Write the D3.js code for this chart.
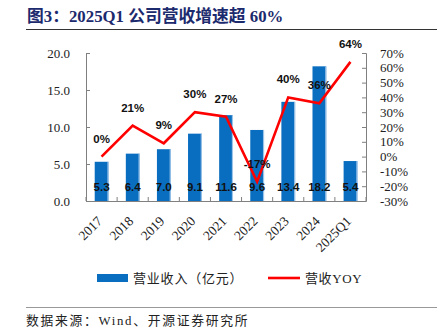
<!DOCTYPE html>
<html>
<head>
<meta charset="utf-8">
<script src="https://cdn.jsdelivr.net/npm/d3@7"></script>
<style>
  body { margin: 0; background: #fff; }
  svg { display: block; }
</style>
</head>
<body>
<div id="chart"></div>
<script>
// data
const years = ["2017", "2018", "2019", "2020", "2021", "2022", "2023", "2024", "2025Q1"];
const revenue = [5.3, 6.4, 7.0, 9.1, 11.6, 9.6, 13.4, 18.2, 5.4];
const yoy = [0, 21, 9, 30, 27, -17, 40, 36, 64];
const leftTicks = [0, 5, 10, 15, 20];
const rightTicks = [-30, -20, -10, 0, 10, 20, 30, 40, 50, 60, 70];

const W = 446, H = 335;
const margin = { top: 53, right: 80, bottom: 134, left: 86 };
const plotW = W - margin.left - margin.right;   // 280
const plotH = H - margin.top - margin.bottom;   // 148

const cjk = "'Liberation Serif', 'Noto Sans CJK SC', serif";
const sans = "'Liberation Sans', Arial, sans-serif";

const svg = d3.select("#chart").append("svg")
    .attr("width", W)
    .attr("height", H);

// title
svg.append("text")
    .attr("x", 27)
    .attr("y", 22)
    .attr("font-family", cjk)
    .attr("font-weight", "bold")
    .attr("font-size", 16.8)
    .attr("fill", "#1c2a6e")
    .text("图3：2025Q1 公司营收增速超 60%");

svg.append("line")
    .attr("x1", 26).attr("x2", 437)
    .attr("y1", 29.5).attr("y2", 29.5)
    .attr("stroke", "#333").attr("stroke-width", 1);

const g = svg.append("g")
    .attr("transform", `translate(${margin.left},${margin.top})`);

const x = d3.scaleBand().domain(years).range([0, plotW]).paddingInner(0.56).paddingOuter(0.28);
const xc = d => x(d) + x.bandwidth() / 2;
const yL = d3.scaleLinear().domain([0, 20]).range([plotH, 0]);
const yR = d3.scaleLinear().domain([-30, 70]).range([plotH, 0]);

// bars
g.selectAll(".bar")
    .data(years)
    .enter().append("rect")
    .attr("class", "bar")
    .attr("x", d => x(d))
    .attr("y", (d, i) => yL(revenue[i]))
    .attr("width", x.bandwidth())
    .attr("height", (d, i) => plotH - yL(revenue[i]))
    .attr("fill", "#0a6ec0");

// light right edge on the bars
g.selectAll(".edge")
    .data(years)
    .enter().append("rect")
    .attr("class", "edge")
    .attr("x", d => x(d) + x.bandwidth() - 1)
    .attr("y", (d, i) => yL(revenue[i]))
    .attr("width", 1.2)
    .attr("height", (d, i) => plotH - yL(revenue[i]))
    .attr("fill", "#9cc3e8");

// axes
const axisColor = "#808080";

const leftAxis = g.append("g")
    .call(d3.axisLeft(yL).tickValues(leftTicks).tickFormat(d3.format(".1f")).tickSize(-4).tickPadding(16));
const rightAxis = g.append("g")
    .attr("transform", `translate(${plotW},0)`)
    .call(d3.axisRight(yR).tickValues(rightTicks).tickFormat(d => d + "%").tickSize(-4).tickPadding(14));

[leftAxis, rightAxis].forEach(a => {
    a.select(".domain").attr("stroke", axisColor);
    a.selectAll(".tick line").attr("stroke", axisColor);
    a.selectAll("text")
        .attr("font-family", "'Liberation Serif', serif")
        .attr("font-size", 13)
        .attr("fill", "#222");
});

// bottom axis with ticks between categories
const bottom = g.append("g").attr("transform", `translate(0,${plotH})`);
bottom.append("line")
    .attr("x1", 0).attr("x2", plotW)
    .attr("y1", 0.5).attr("y2", 0.5)
    .attr("stroke", axisColor);
bottom.selectAll(".sep")
    .data(d3.range(years.length + 1))
    .enter().append("line")
    .attr("x1", i => i * x.step())
    .attr("x2", i => i * x.step())
    .attr("y1", 0).attr("y2", -4)
    .attr("stroke", axisColor);

bottom.selectAll(".xlab")
    .data(years)
    .enter().append("text")
    .attr("transform", d => `translate(${xc(d) + 1.5},${21}) rotate(-45)`)
    .attr("text-anchor", "end")
    .attr("font-family", "'Liberation Serif', serif")
    .attr("font-size", 13.5)
    .attr("fill", "#222")
    .text(d => d);

// yoy line
const line = d3.line()
    .x((d, i) => xc(years[i]))
    .y(d => yR(d));

g.append("path")
    .datum(yoy)
    .attr("d", line)
    .attr("fill", "none")
    .attr("stroke", "#ff0000")
    .attr("stroke-width", 2.6)
    .attr("stroke-linejoin", "miter");

// yoy labels
g.selectAll(".yoylab")
    .data(yoy)
    .enter().append("text")
    .attr("x", (d, i) => xc(years[i]))
    .attr("y", d => yR(d) - 14)
    .attr("text-anchor", "middle")
    .attr("font-family", sans)
    .attr("font-weight", "bold")
    .attr("font-size", 11.5)
    .attr("fill", "#111")
    .text(d => d + "%");

// bar value labels
g.selectAll(".revlab")
    .data(revenue)
    .enter().append("text")
    .attr("x", (d, i) => xc(years[i]))
    .attr("y", plotH - 10)
    .attr("text-anchor", "middle")
    .attr("font-family", sans)
    .attr("font-weight", "bold")
    .attr("font-size", 11.5)
    .attr("fill", "#111")
    .text(d => d.toFixed(1));

// legend
const lg = svg.append("g");
lg.append("rect")
    .attr("x", 97).attr("y", 274)
    .attr("width", 31).attr("height", 8)
    .attr("fill", "#0a6ec0");
lg.append("text")
    .attr("x", 133).attr("y", 283)
    .attr("font-family", cjk)
    .attr("font-size", 13)
    .attr("letter-spacing", 0.8)
    .attr("fill", "#222")
    .text("营业收入（亿元）");
lg.append("line")
    .attr("x1", 268).attr("x2", 300)
    .attr("y1", 278).attr("y2", 278)
    .attr("stroke", "#ff0000").attr("stroke-width", 2.6);
lg.append("text")
    .attr("x", 305).attr("y", 283)
    .attr("font-family", cjk)
    .attr("font-size", 13)
    .attr("letter-spacing", 0.6)
    .attr("fill", "#222")
    .text("营收YOY");

// footer
svg.append("line")
    .attr("x1", 26).attr("x2", 437)
    .attr("y1", 307.5).attr("y2", 307.5)
    .attr("stroke", "#999").attr("stroke-width", 1);

svg.append("text")
    .attr("x", 26).attr("y", 325)
    .attr("font-family", cjk)
    .attr("font-size", 12.8)
    .attr("letter-spacing", 1.7)
    .attr("fill", "#222")
    .text("数据来源：Wind、开源证券研究所");
</script>
</body>
</html>
